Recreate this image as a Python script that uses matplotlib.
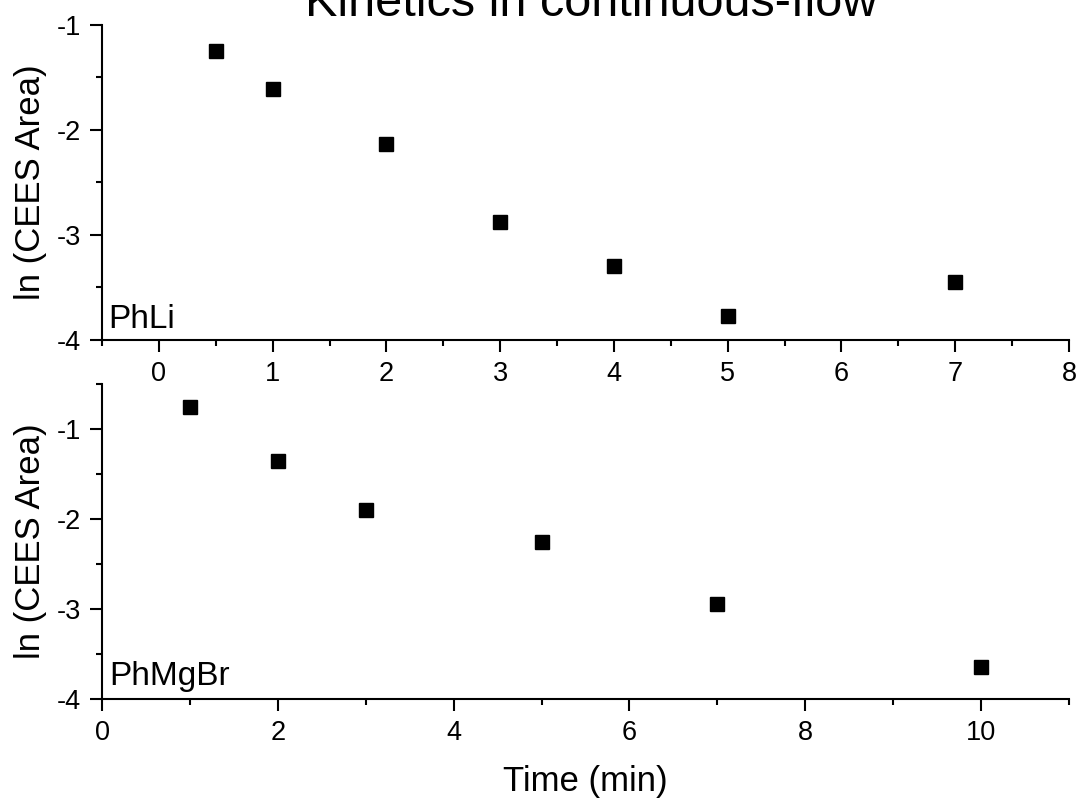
import matplotlib
matplotlib.use("Agg")
import matplotlib.pyplot as plt
from matplotlib.ticker import MultipleLocator

plt.rcParams['font.family'] = ['Liberation Sans', 'DejaVu Sans']
plt.rcParams['axes.unicode_minus'] = False

# PhLi run
t_phli = [0.5, 1, 2, 3, 4, 5, 7]
ln_phli = [-1.25, -1.61, -2.13, -2.88, -3.30, -3.77, -3.45]

# PhMgBr run
t_phmgbr = [1, 2, 3, 5, 7, 10]
ln_phmgbr = [-0.76, -1.36, -1.90, -2.26, -2.94, -3.64]

W, H = 1082, 807
fig = plt.figure(figsize=(W / 100, H / 100), dpi=100)

def px_axes(l, t, r, b):
    return fig.add_axes([l / W, 1 - b / H, (r - l) / W, (b - t) / H])

ax1 = px_axes(102, 25, 1069, 340)
ax2 = px_axes(102, 384, 1069, 699)

def style(ax):
    for s in ['top', 'right']:
        ax.spines[s].set_visible(False)
    for s in ['left', 'bottom']:
        ax.spines[s].set_linewidth(1.5)
    ax.tick_params(which='major', direction='out', length=8.5, width=1.5,
                   labelsize=19.5, pad=6.5, colors='black')
    ax.tick_params(which='minor', direction='out', length=4, width=1.5)
    ax.set_ylabel('ln (CEES Area)', fontsize=25)
    ax.yaxis.set_label_coords(-0.057, 0.5)

ax1.plot(t_phli, ln_phli, 's', color='black', markersize=9.5, clip_on=False)
ax1.set_xlim(-0.5, 8)
ax1.set_ylim(-4, -1)
ax1.xaxis.set_major_locator(MultipleLocator(1))
ax1.xaxis.set_minor_locator(MultipleLocator(0.5))
ax1.yaxis.set_major_locator(MultipleLocator(1))
ax1.yaxis.set_minor_locator(MultipleLocator(0.5))
style(ax1)
ax1.text(0.006, 0.038, 'PhLi', transform=ax1.transAxes, fontsize=24,
         ha='left', va='baseline')

ax2.plot(t_phmgbr, ln_phmgbr, 's', color='black', markersize=9.5, clip_on=False)
ax2.set_xlim(0, 11)
ax2.set_ylim(-4, -0.5)
ax2.xaxis.set_major_locator(MultipleLocator(2))
ax2.xaxis.set_minor_locator(MultipleLocator(1))
ax2.yaxis.set_major_locator(MultipleLocator(1))
ax2.yaxis.set_minor_locator(MultipleLocator(0.5))
style(ax2)
ax2.text(0.008, 0.045, 'PhMgBr', transform=ax2.transAxes, fontsize=24,
         ha='left', va='baseline')
ax2.set_xlabel('Time (min)', fontsize=25)
ax2.xaxis.set_label_coords(0.5, -0.21)

fig.text(591 / W, 1 - 16 / H, 'Kinetics in continuous-flow', fontsize=35,
         ha='center', va='baseline')

fig.savefig('out.png', dpi=100)
